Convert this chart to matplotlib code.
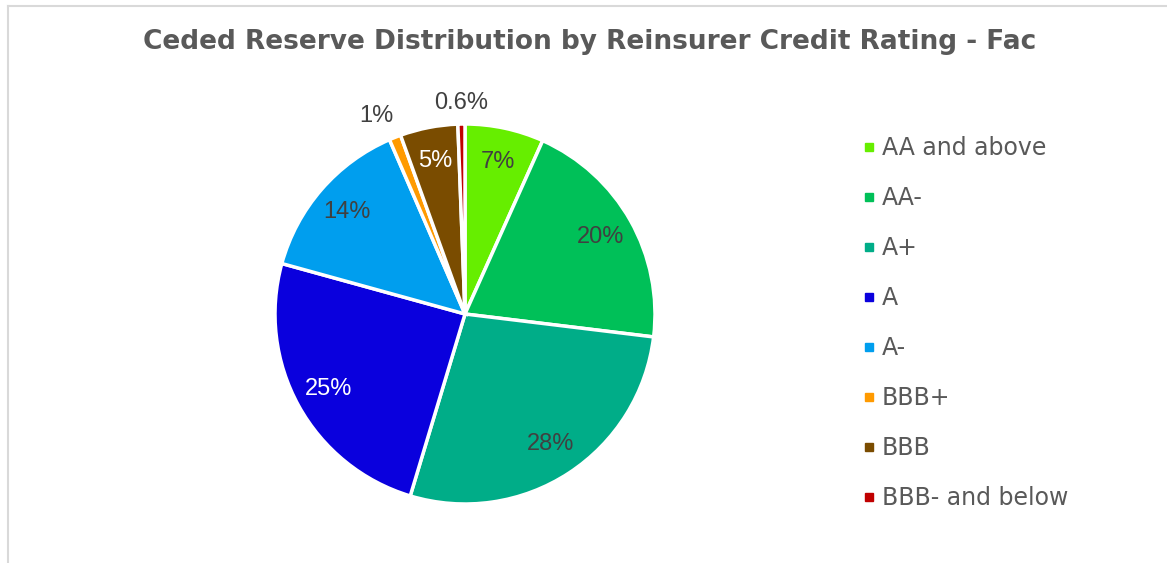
import matplotlib
matplotlib.use("Agg")
import matplotlib.pyplot as plt
from matplotlib.lines import Line2D
import numpy as np

categories = ["AA and above", "AA-", "A+", "A", "A-", "BBB+", "BBB", "BBB- and below"]
values = [6.7, 20.2, 27.7, 24.6, 14.2, 1.0, 4.9, 0.6]
pct_labels = ["7%", "20%", "28%", "25%", "14%", "1%", "5%", "0.6%"]
colors = ["#66EE00", "#00C058", "#00AD88", "#0A00DD", "#009EEE", "#FF9A00", "#7A4C00", "#C00000"]
label_colors = ["#404040", "#404040", "#404040", "#FFFFFF", "#404040", "#404040", "#FFFFFF", "#404040"]
outside = [False, False, False, False, False, True, False, True]

W, H = 1167, 563
fig = plt.figure(figsize=(W / 100, H / 100), dpi=100)

# frame lines (top and left)
fig.add_artist(Line2D([8 / W, 1.0], [1 - 6 / H, 1 - 6 / H], color="#D9D9D9", lw=1.5))
fig.add_artist(Line2D([8 / W, 8 / W], [0, 1 - 6 / H], color="#D9D9D9", lw=1.5))

cx, cy, r = 465, 314, 190
box = 200
ax = fig.add_axes([(cx - box) / W, (H - cy - box) / H, 2 * box / W, 2 * box / H])
wedges, _ = ax.pie(values, colors=colors, startangle=90, counterclock=False,
                   radius=1.0, wedgeprops=dict(edgecolor="white", linewidth=2.5))
lim = box / r
ax.set_xlim(-lim, lim)
ax.set_ylim(-lim, lim)
ax.set_aspect("equal")
ax.axis("off")

for w, lab, lc, out in zip(wedges, pct_labels, label_colors, outside):
    a = (w.theta1 + w.theta2) / 2
    d = 0.82
    if out:
        if lab == "1%":
            a += 2.5
            d = 1.14
        else:
            d = 1.11
    ang = np.deg2rad(a)
    x, y = d * np.cos(ang), d * np.sin(ang)
    ax.text(x, y, lab, ha="center", va="center", fontsize=17, color=lc,
            family="Liberation Sans", clip_on=False)

fig.text(0.505, 1 - 42 / H, "Ceded Reserve Distribution by Reinsurer Credit Rating - Fac",
         ha="center", va="center", fontsize=19, fontweight="bold", color="#595959",
         family="DejaVu Sans")

handles = [Line2D([], [], marker="s", linestyle="none", markersize=5.5,
                  markerfacecolor=c, markeredgecolor=c) for c in colors]
leg = fig.legend(handles, categories, loc="upper left", bbox_to_anchor=(852 / W, 1 - 127 / H),
                 frameon=False, handlelength=0.6,
                 handletextpad=0.25, labelspacing=1.10, borderaxespad=0,
                 prop=dict(family="DejaVu Sans", size=17))
for t in leg.get_texts():
    t.set_color("#595959")

fig.savefig("out.png", dpi=100, facecolor="white")
